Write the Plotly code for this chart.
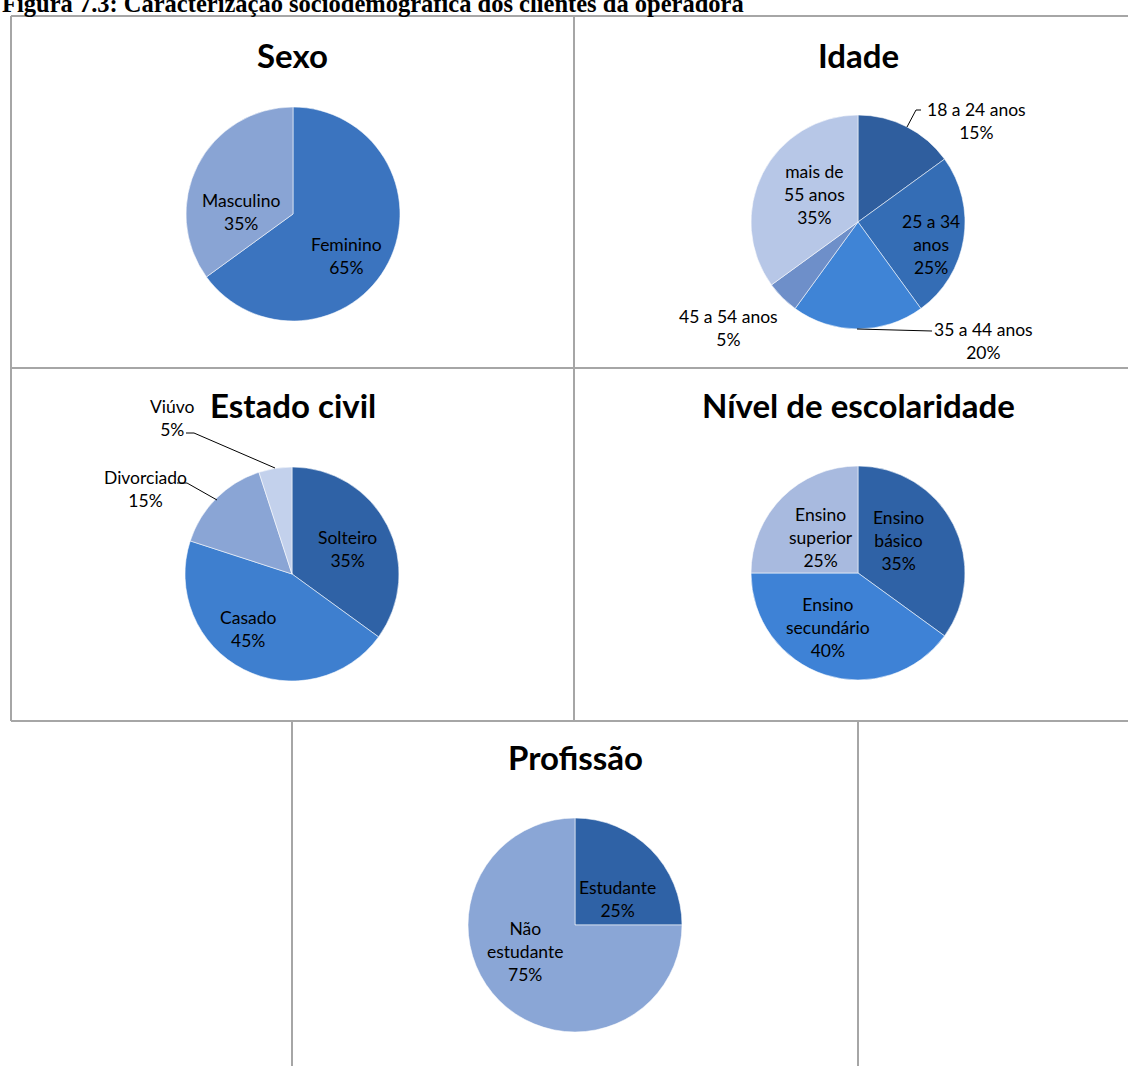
import plotly.graph_objects as go

W, H = 1128, 1066

# ---------------- data ----------------
sexo_labels = ["Feminino", "Masculino"]
sexo_values = [65, 35]

idade_labels = ["18 a 24 anos", "25 a 34 anos", "35 a 44 anos", "45 a 54 anos", "mais de 55 anos"]
idade_values = [15, 25, 20, 5, 35]

estado_labels = ["Solteiro", "Casado", "Divorciado", "Viúvo"]
estado_values = [35, 45, 15, 5]

escol_labels = ["Ensino básico", "Ensino secundário", "Ensino superior"]
escol_values = [35, 40, 25]

prof_labels = ["Estudante", "Não estudante"]
prof_values = [25, 75]

# ---------------- style ----------------
FONT = "Lato"
LBL = 17.5
R = 107


def px(x):
    return x / W


def py(y):
    return 1 - y / H


def dom(cx, cy, r=R):
    return dict(x=[px(cx - r), px(cx + r)], y=[py(cy + r), py(cy - r)])


fig = go.Figure()

# label line breaks and label centre positions (pixels) for each panel
panels = [
    dict(title="Sexo", labels=sexo_labels, values=sexo_values, c=(293, 214),
         colors=["#3b74bf", "#89a4d4"], breaks={},
         pos=[(346, 256), (241, 212)]),
    dict(title="Idade", labels=idade_labels, values=idade_values, c=(858, 222),
         colors=["#2f5e9e", "#346db5", "#3f84d6", "#6e8fc9", "#b7c7e7"],
         breaks={"25 a 34 anos": "25 a 34<br>anos", "mais de 55 anos": "mais de<br>55 anos"},
         pos=[(976, 121), (931, 244), (983, 341), (728, 328), (815, 194)]),
    dict(title="Estado civil", labels=estado_labels, values=estado_values, c=(292, 574),
         colors=["#2f62a6", "#3e7fcf", "#8aa5d5", "#c3d1ec"], breaks={},
         pos=[(347, 549), (248, 629), (145, 489), (172, 418)]),
    dict(title="Nível de escolaridade", labels=escol_labels, values=escol_values, c=(858, 573),
         colors=["#2f62a6", "#3e82d6", "#a8badf"],
         breaks={"Ensino básico": "Ensino<br>básico", "Ensino secundário": "Ensino<br>secundário",
                 "Ensino superior": "Ensino<br>superior"},
         pos=[(898, 540), (828, 627), (821, 537)]),
    dict(title="Profissão", labels=prof_labels, values=prof_values, c=(575, 925),
         colors=["#2f62a6", "#8aa6d6"], breaks={"Não estudante": "Não<br>estudante"},
         pos=[(617, 899), (525, 951)]),
]

title_pos = {"Sexo": (293, 55), "Idade": (858, 55), "Estado civil": (293, 405),
             "Nível de escolaridade": (858, 405), "Profissão": (575, 757)}

annotations = []
for p in panels:
    cx, cy = p["c"]
    tot = sum(p["values"])
    fig.add_trace(go.Pie(
        labels=p["labels"], values=p["values"], textinfo="none",
        sort=False, direction="clockwise", rotation=0,
        marker=dict(colors=p["colors"], line=dict(color="rgba(255,255,255,0.55)", width=1)),
        domain=dom(cx, cy), showlegend=False, hoverinfo="label+percent",
    ))
    for l, v, (lx, ly) in zip(p["labels"], p["values"], p["pos"]):
        t = p["breaks"].get(l, l) + "<br>" + f"{round(100 * v / tot)}%"
        annotations.append(dict(x=px(lx), y=py(ly), xref="paper", yref="paper", text=t, showarrow=False,
                                font=dict(family=FONT, size=LBL, color="black"), xanchor="center",
                                yanchor="middle", align="center"))
    tx, ty = title_pos[p["title"]]
    annotations.append(dict(x=px(tx), y=py(ty), xref="paper", yref="paper", text=f"<b>{p['title']}</b>",
                            showarrow=False, font=dict(family=FONT, size=33, color="black"),
                            xanchor="center", yanchor="middle"))

# figure caption (cut at the top like the source)
annotations.append(dict(x=0, y=py(4), xref="paper", yref="paper",
                        text="<b>Figura 7.3: Caracterização sociodemográfica dos clientes da operadora</b>",
                        showarrow=False, xanchor="left", yanchor="middle",
                        font=dict(family="Liberation Serif", size=24.5, color="black")))

GRAY = "#a6a6a6"
shapes = []


def hline(x0, x1, y, w=2):
    shapes.append(dict(type="line", xref="paper", yref="paper", x0=px(x0), x1=px(x1), y0=py(y), y1=py(y),
                       line=dict(color=GRAY, width=w)))


def vline(x, y0, y1, w=2):
    shapes.append(dict(type="line", xref="paper", yref="paper", x0=px(x), x1=px(x), y0=py(y0), y1=py(y1),
                       line=dict(color=GRAY, width=w)))


hline(11, 1128, 16)
hline(11, 1128, 368)
hline(11, 1128, 721)
vline(11, 16, 721)
vline(574, 16, 721)
vline(292, 721, 1066)
vline(858, 721, 1066)


def leader(pts):
    path = "M " + " L ".join(f"{px(x)},{py(y)}" for x, y in pts)
    shapes.append(dict(type="path", xref="paper", yref="paper", path=path,
                       line=dict(color="black", width=1)))


leader([(921, 110), (916, 110), (907, 127)])
leader([(857, 329), (932, 331)])
leader([(186, 433), (194, 433), (275, 468)])
leader([(177, 483), (187, 483), (217, 500)])

fig.update_layout(
    width=W, height=H, margin=dict(l=0, r=0, t=0, b=0),
    paper_bgcolor="white", plot_bgcolor="white",
    annotations=annotations, shapes=shapes,
)

fig.write_html("out.html", config={"displayModeBar": False},
               post_script="document.body.style.margin='0';document.body.style.overflow='hidden';")
